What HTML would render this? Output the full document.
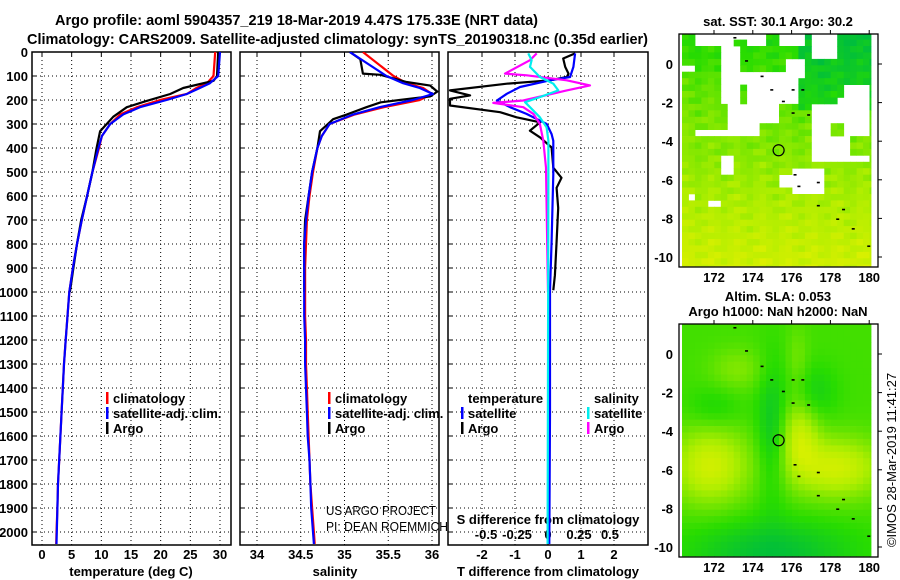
<!DOCTYPE html>
<html><head><meta charset="utf-8"><style>
html,body{margin:0;padding:0;background:#fff;}
svg{display:block;font-family:"Liberation Sans",sans-serif;}
.b{font-weight:bold;font-size:13px;}
</style></head><body>
<svg id="fig" width="900" height="580" viewBox="0 0 900 580" xmlns="http://www.w3.org/2000/svg">
<rect x="0" y="0" width="900" height="580" fill="#fff"/>
<text x="55" y="25" textLength="483" lengthAdjust="spacingAndGlyphs" class="b" style="font-size:15px">Argo profile: aoml 5904357_219 18-Mar-2019 4.47S 175.33E (NRT data)</text>
<text x="27" y="44" textLength="621" lengthAdjust="spacingAndGlyphs" class="b" style="font-size:15px">Climatology: CARS2009. Satellite-adjusted climatology: synTS_20190318.nc (0.35d earlier)</text>
<defs>
<clipPath id="c1"><rect x="32" y="52" width="199" height="493"/></clipPath>
<clipPath id="c2"><rect x="240" y="52" width="199" height="493"/></clipPath>
<clipPath id="c3"><rect x="448" y="52" width="200" height="493"/></clipPath>
</defs>
<g id="g"></g>
</svg>
<script>
// ---- profile data ----
const climDepth = [0,100,130,150,175,200,230,260,300,350,400,500,600,700,800,900,1000,1100,1200,1300,1400,1500,1600,1700,1800,1900,2000,2050];
const tempClim = [29.2,28.9,27.8,26.0,24.4,19.9,16.0,13.2,11.5,10.1,9.6,8.5,7.6,6.7,5.9,5.2,4.6,4.3,4.0,3.7,3.5,3.3,3.1,2.9,2.7,2.6,2.45,2.4];
const tempSat = [30.0,29.7,28.3,26.6,24.4,21.0,16.5,13.7,11.5,10.1,9.5,8.5,7.6,6.7,5.9,5.2,4.6,4.3,4.0,3.7,3.5,3.3,3.1,2.9,2.7,2.6,2.5,2.45];
const argoTempDepth = [0,100,120,150,175,205,230,270,300,330,400,500,600,700,800,900,1000];
const argoTemp = [29.7,29.5,28.9,23.8,21.6,17.5,14.3,12.0,10.9,9.8,9.2,8.5,7.6,6.6,5.9,5.3,4.7];
const salClim = [35.21,35.56,35.71,35.90,36.00,35.86,35.45,35.12,34.83,34.74,34.69,34.64,34.60,34.57,34.56,34.55,34.55,34.55,34.56,34.56,34.57,34.58,34.59,34.60,34.61,34.63,34.65,34.66];
const salSat = [35.06,35.48,35.67,35.86,36.01,35.78,35.40,35.10,34.83,34.74,34.69,34.63,34.59,34.56,34.54,34.54,34.54,34.54,34.55,34.55,34.56,34.57,34.58,34.60,34.61,34.62,34.64,34.65];
const argoSalDepth = [0,30,90,95,110,125,140,165,185,200,210,230,260,280,300,330,400,500,600,700,800,1000];
const argoSal = [35.06,35.18,35.21,35.41,35.56,35.71,35.98,36.06,35.98,35.63,35.41,35.25,35.03,34.87,34.81,34.72,34.69,34.63,34.59,34.55,34.54,34.54];
const dTArgoDepth = [6,27,62,90,104,118,132,160,181,195,223,251,272,293,328,356,398,482,524,566,650,790,930,993];
const dTArgo = [0.82,0.46,0.52,0.62,0.57,0.06,-1.25,-2.97,-2.36,-2.97,-2.97,-1.45,-0.95,-0.24,-0.55,-0.24,0.11,0.16,0.41,0.26,0.31,0.26,0.21,0.16];
const dTSatDepth = [6,62,104,118,146,174,202,230,258,300,342,370,510,790,993,1200,1500,2050];
const dTSat = [0.82,0.77,0.67,0.06,-0.85,-1.25,-1.55,-1.15,-0.65,-0.04,0.11,0.16,0.16,0.11,0.06,0.06,0.06,0.04];
const dSArgoDepth = [6,34,90,97,118,139,160,202,212,230,258,300,370,482,1000];
const dSArgo = [-0.091,-0.145,-0.347,-0.172,0.151,0.339,0.151,-0.199,-0.441,-0.199,-0.118,-0.065,-0.038,-0.016,0.0];
const dSSatDepth = [6,34,62,104,132,160,188,209,230,272,314,370,510,2050];
const dSSat = [-0.159,-0.132,-0.145,-0.065,0.043,0.083,-0.065,-0.185,-0.145,-0.065,-0.011,0.003,0.003,-0.003];
const depthTicks = [0,100,200,300,400,500,600,700,800,900,1000,1100,1200,1300,1400,1500,1600,1700,1800,1900,2000];
const tempTicks = [0,5,10,15,20,25,30];
const salTicks = [34,34.5,35,35.5,36];
const dTTicks = [-2,-1,0,1,2];
const dSTicks = [-0.5,-0.25,0,0.25,0.5];
const dSTickLabels = ['-0.5','-0.25','0','0.25','0.5'];
// ---- map axes ----
const mapLonTicks = [172,174,176,178,180];
const mapLatTicks = [0,-2,-4,-6,-8,-10];
const argoLon = 175.33, argoLat = -4.47;

const NS='http://www.w3.org/2000/svg';
const G=document.getElementById('g');
function mk(tag,attrs,parent){const e=document.createElementNS(NS,tag);for(const k in attrs)e.setAttribute(k,attrs[k]);(parent||G).appendChild(e);return e;}
function txt(s,attrs,parent){const e=mk('text',attrs,parent);e.textContent=s;return e;}

const yD = d => 52 + 0.24*d;
const xT = v => 42 + 5.933*v;
const xS = v => 257 + 87.5*(v-34);
const xdT = v => 548 + 33*v;
const xdS = v => 548 + 124*v;

const panels=[{x0:32,x1:231,clip:'c1',name:'temperature-panel'},{x0:240,x1:439,clip:'c2',name:'salinity-panel'},{x0:448,x1:648,clip:'c3',name:'difference-panel'}];

function vgrid(xs){xs.forEach(x=>{const l=mk('line',{x1:x,x2:x,y1:52,y2:545,stroke:'#000','stroke-width':1,'stroke-dasharray':'1,3'});


const t1=mk('line',{x1:x,x2:x,y1:52,y2:56,stroke:'#000'});

});}
panels.forEach(p=>{
  depthTicks.forEach(d=>{const l=mk('line',{x1:p.x0,x2:p.x1,y1:yD(d),y2:yD(d),stroke:'#000','stroke-dasharray':'1,3'});
  
  
  const t=mk('line',{x1:p.x0,x2:p.x0+4,y1:yD(d),y2:yD(d),stroke:'#000'});
  
  });
});
vgrid(tempTicks.map(xT));
vgrid(salTicks.map(xS));
vgrid(dTTicks.map(xdT));
panels.forEach(p=>{const r=mk('rect',{x:p.x0,y:52,width:p.x1-p.x0,height:493,fill:'none',stroke:'#000','stroke-width':1.5});

});

depthTicks.forEach(d=>{const t=txt(String(d),{x:28,y:yD(d)+5,'text-anchor':'end',class:'b'});

});
function xlabels(ticks,f){ticks.forEach(v=>{const t=txt(String(v),{x:f(v),y:559,'text-anchor':'middle',class:'b'});

});}
xlabels(tempTicks,xT);xlabels(salTicks,xS);xlabels(dTTicks,xdT);
dSTicks.forEach((v,i)=>{const t=txt(dSTickLabels[i],{x:xdS(v),y:539,'text-anchor':'middle',class:'b'});

});
[['temperature (deg C)',131],['salinity',335],['T difference from climatology',548]].forEach(a=>{const t=txt(a[0],{x:a[1],y:576,'text-anchor':'middle',class:'b'});

});
const st=txt('S difference from climatology',{x:548,y:524,'text-anchor':'middle',class:'b'});



function series(depths,vals,fx,color,clip,name){const pts=depths.map((d,i)=>fx(vals[i]).toFixed(1)+','+yD(d).toFixed(1)).join(' ');
const pl=mk('polyline',{points:pts,fill:'none',stroke:color,'stroke-width':2.2,'clip-path':'url(#'+clip+')','stroke-linejoin':'round'});

}
series(climDepth,tempClim,xT,'#f00','c1','temp-climatology-line');
series(argoTempDepth,argoTemp,xT,'#000','c1','temp-argo-line');
series(climDepth,tempSat,xT,'#00f','c1','temp-satellite-line');
series(climDepth,salClim,xS,'#f00','c2','sal-climatology-line');
series(argoSalDepth,argoSal,xS,'#000','c2','sal-argo-line');
series(climDepth,salSat,xS,'#00f','c2','sal-satellite-line');
series(dTArgoDepth,dTArgo,xdT,'#000','c3','t-diff-argo-line');
series(dTSatDepth,dTSat,xdT,'#00f','c3','t-diff-satellite-line');
series(dSArgoDepth,dSArgo,xdS,'#f0f','c3','s-diff-argo-line');
series(dSSatDepth,dSSat,xdS,'#0ee','c3','s-diff-satellite-line');

function legend(x,y,color,label){if(color){const r=mk('rect',{x:x,y:y-11,width:2.5,height:12,fill:color});

}
const t=txt(label,{x:x+7,y:y,class:'b'});

}
legend(106,403,'#f00','climatology');legend(106,418,'#00f','satellite-adj. clim.');legend(106,433,'#000','Argo');
legend(328,403,'#f00','climatology');legend(328,418,'#00f','satellite-adj. clim.');legend(328,433,'#000','Argo');
legend(461,403,null,'temperature');legend(461,418,'#00f','satellite');legend(461,433,'#000','Argo');
legend(587,403,null,'salinity');legend(587,418,'#0ee','satellite');legend(587,433,'#f0f','Argo');
[['US ARGO PROJECT',515,110],['PI: DEAN ROEMMICH',531,122]].forEach(a=>{const t=txt(a[0],{x:326,y:a[1],'font-size':'12.5',fill:'#000',textLength:a[2],lengthAdjust:'spacingAndGlyphs'});

});

// ---- maps ----
function sstField(lon,lat){let v=0.35-0.055*lat;if(lat>-2.3&&lon>176.2)v-=0.25;v+=0.07*Math.sin(lon*17.3+lat*5.1)*Math.cos(lat*13.7-lon*3.3)+0.04*Math.sin(lat*11.3+lon*23.1);if(lon<173.2&&lat<-0.5&&lat>-4)v+=0.05;return v;}
function slaField(lon,lat){const g=(a,b,sx,sy)=>Math.exp(-((lon-a)*(lon-a))/(2*sx*sx)-((lat-b)*(lat-b))/(2*sy*sy));
let v=0.38+0.55*g(171.8,-5.8,1.4,1.4)+0.55*g(178.3,-5.9,1.7,1.1)+0.45*g(176.4,-4.2,0.7,1.3)+0.2*g(173.2,-0.8,1.0,0.8)+0.15*g(176.3,-0.3,0.4,1.2)-0.3*g(175.0,-4,0.55,2.5)-0.35*g(175,-10.3,3,1.2)-0.2*g(177.2,-2,0.8,1)-0.15*g(172,-2.8,1,0.8);return v;}
function cmap(v){v=Math.max(0,Math.min(1,v));const s=[[0,[0,190,60]],[0.3,[40,220,0]],[0.55,[120,230,0]],[0.75,[175,238,0]],[1,[220,240,0]]];
for(let i=1;i<s.length;i++){if(v<=s[i][0]){const a=s[i-1],b=s[i],t=(v-a[0])/(b[0]-a[0]);return 'rgb('+a[1].map((c,j)=>Math.round(c+(b[1][j]-c)*t)).join(',')+')';}}return 'rgb(220,240,0)';}
const sstGaps=[[171.0,173.0,1.6,0.8],[173.0,174.6,1.6,1.1],[175.3,176.6,1.6,0.9],[175.6,176.6,0.4,-0.8],[177.0,178.2,1.6,0.3],[172.3,173.5,0.8,-1.2],[172.3,173.2,-0.3,-1.9],[173.7,176.2,-0.3,-1.9],[173.2,173.7,-0.3,-1.2],[170.4,171.0,0.1,-0.5],[178.3,180.1,-1.2,-5.2],[176.9,178.3,-1.9,-4.1],[177.3,178.3,-4.1,-5.2],[176.9,177.3,-4.1,-4.9],[171.0,172.8,-3.3,-3.8],[172.8,174.2,-1.9,-3.8],[174.2,175.3,-1.9,-2.9],[172.4,172.9,-4.7,-5.6],[176.1,177.6,-5.3,-6.7],[175.3,176.1,-5.7,-6.3],[171.7,172.3,-7.0,-7.5],[173.5,174.2,-6.9,-7.1],[170.7,170.9,-6.7,-7.1],[174.2,174.4,-8.8,-9.0]];
const sstPatches=[[178.1,178.7,-3.05,-3.67],[178.9,180.1,-3.83,-4.87],[176.1,176.7,-3.05,-3.67],[173.2,173.7,-1.24,-1.87],[178.1,178.6,-1.1,-1.7],[173.0,173.6,1.2,0.8]];
function inR(g,cl,ca){return cl>=g[0]&&cl<=g[1]&&ca<=g[2]&&ca>=g[3];}
function drawMap(y0,field,gaps,patches,name){
  const lonX=l=>714+19.4*(l-172), latY=la=>y0+30-19.3*la;
  const grp=mk('g',{});
  
  
  const step=1/3;
  for(let lat=1.6;lat>-10.5;lat-=step){for(let lon=170.35;lon<180.1;lon+=step){
    const cl=lon+step/2,ca=lat-step/2;let gap=false;
    if(gaps)for(const g of gaps){if(inR(g,cl,ca)){gap=true;break;}}
    if(gap&&patches)for(const g of patches){if(inR(g,cl,ca)){gap=false;break;}}
    if(gap)continue;
    const x=lonX(lon),y=latY(lat),w=Math.min(lonX(Math.min(lon+step,180.1))-x,871-x),h=Math.min(latY(lat-step),y0+232)-y;
    if(w<=0||h<=0)continue;
    const r=mk('rect',{x:x.toFixed(1),y:Math.max(y,y0).toFixed(1),width:(w+0.4).toFixed(1),height:(h+0.4-Math.max(0,y0-y)).toFixed(1),fill:cmap(field(cl,ca))},grp);
    
    }}
  const fr=mk('rect',{x:679,y:y0,width:199,height:233,fill:'none',stroke:'#000','stroke-width':1.3});
  
  
  mapLonTicks.forEach(l=>{const t=txt(String(l),{x:lonX(l),y:y0+248,'text-anchor':'middle',class:'b'});
  
  
  const k=mk('line',{x1:lonX(l),x2:lonX(l),y1:y0,y2:y0-4,stroke:'#000'});
  
  });
  mapLatTicks.forEach(l=>{const t=txt(String(l),{x:673,y:latY(l)+5,'text-anchor':'end',class:'b'});
  
  
  const k=mk('line',{x1:878,x2:882,y1:latY(l),y2:latY(l),stroke:'#000'});
  
  });
  [[173,1.4],[173.6,0.2],[174.4,-0.6],[174.9,-1.3],[175.5,-1.9],[176,-1.3],[176.5,-1.3],[176,-2.5],[176.8,-2.6],[176.1,-5.7],[176.3,-6.3],[177.3,-6.1],[177.3,-7.3],[178.6,-7.5],[178.3,-8],[179.1,-8.5],[179.9,-9.4]].forEach(p=>{
  const d=mk('rect',{x:lonX(p[0]),y:latY(p[1]),width:3,height:1.6,fill:'#000'});
  
  });
  const c=mk('circle',{cx:lonX(argoLon),cy:latY(argoLat),r:5.5,fill:'none',stroke:'#000','stroke-width':1.2});
  
  
}
drawMap(34,sstField,sstGaps,sstPatches,'sst-map');
drawMap(324,slaField,null,null,'sla-map');
[['sat. SST: 30.1 Argo: 30.2',778,26],['Altim. SLA: 0.053',778,301],['Argo h1000: NaN h2000: NaN',778,316]].forEach(a=>{const t=txt(a[0],{x:a[1],y:a[2],'text-anchor':'middle',class:'b'});

});
const rt=txt('©IMOS 28-Mar-2019 11:41:27',{x:0,y:0,'text-anchor':'middle','font-size':'13',transform:'translate(896,460) rotate(-90)'});


</script>
</body></html>
